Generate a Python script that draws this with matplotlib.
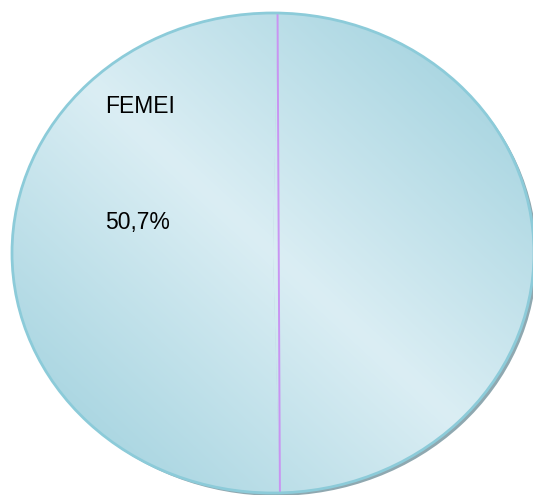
import numpy as np
import matplotlib
matplotlib.use('Agg')
import matplotlib.pyplot as plt
from matplotlib.colors import LinearSegmentedColormap
from matplotlib.patches import Circle

labels = ['FEMEI', 'BĂRBAȚI']
values = [50.7, 49.3]
shown = [True, False]

fig = plt.figure(figsize=(5.33, 4.95), dpi=100)
ax = fig.add_axes([0, 0, 1, 1])

# shadow under the pie (bottom right)
shadow = Circle((0.012, -0.012), 1.0, facecolor='#8fa8b0', edgecolor='none', zorder=0)
ax.add_patch(shadow)

wedges, _ = ax.pie(values, startangle=89, counterclock=True,
                   colors=['#c8e4ec', '#c8e4ec'],
                   wedgeprops=dict(edgecolor='none'))

# gradient fill: dark at bottom-left and top-right, light in the middle
cmap = LinearSegmentedColormap.from_list('pie', ['#a6d4e0', '#dbeef4', '#a6d4e0'])
xx, yy = np.meshgrid(np.linspace(-1, 1, 400), np.linspace(-1, 1, 400))
u = (xx + yy) / 2.0
for w in wedges:
    im = ax.imshow(u, cmap=cmap, vmin=-0.8, vmax=0.8, extent=(-1, 1, -1, 1),
                   origin='lower', zorder=1, interpolation='bilinear')
    im.set_clip_path(w)

# divider between the slices (one straight line across)
t1 = np.deg2rad(wedges[0].theta1)
t2 = np.deg2rad(wedges[0].theta2)
ax.plot([np.cos(t1), np.cos(t2)], [np.sin(t1), np.sin(t2)], color='#c994f2', lw=1.4, zorder=2)

ax.add_patch(Circle((0, 0), 1.0, fill=False, edgecolor='#8ccbd9', lw=2.0, zorder=3))

for w, lab, v, s in zip(wedges, labels, values, shown):
    if not s:
        continue
    ax.text(-0.645, 0.61, lab, fontsize=16.5, family='Liberation Sans', color='black',
            ha='left', va='center', zorder=4)
    ax.text(-0.645, 0.125, ('%.1f%%' % v).replace('.', ','), fontsize=16.5,
            family='Liberation Sans', color='black', ha='left', va='center', zorder=4)

ax.set_aspect('auto')
ax.set_xlim(-273 / 261, 260 / 261)
ax.set_ylim(-242 / 240, 253 / 240)
ax.axis('off')

fig.savefig('out.png', dpi=100, facecolor='white')
